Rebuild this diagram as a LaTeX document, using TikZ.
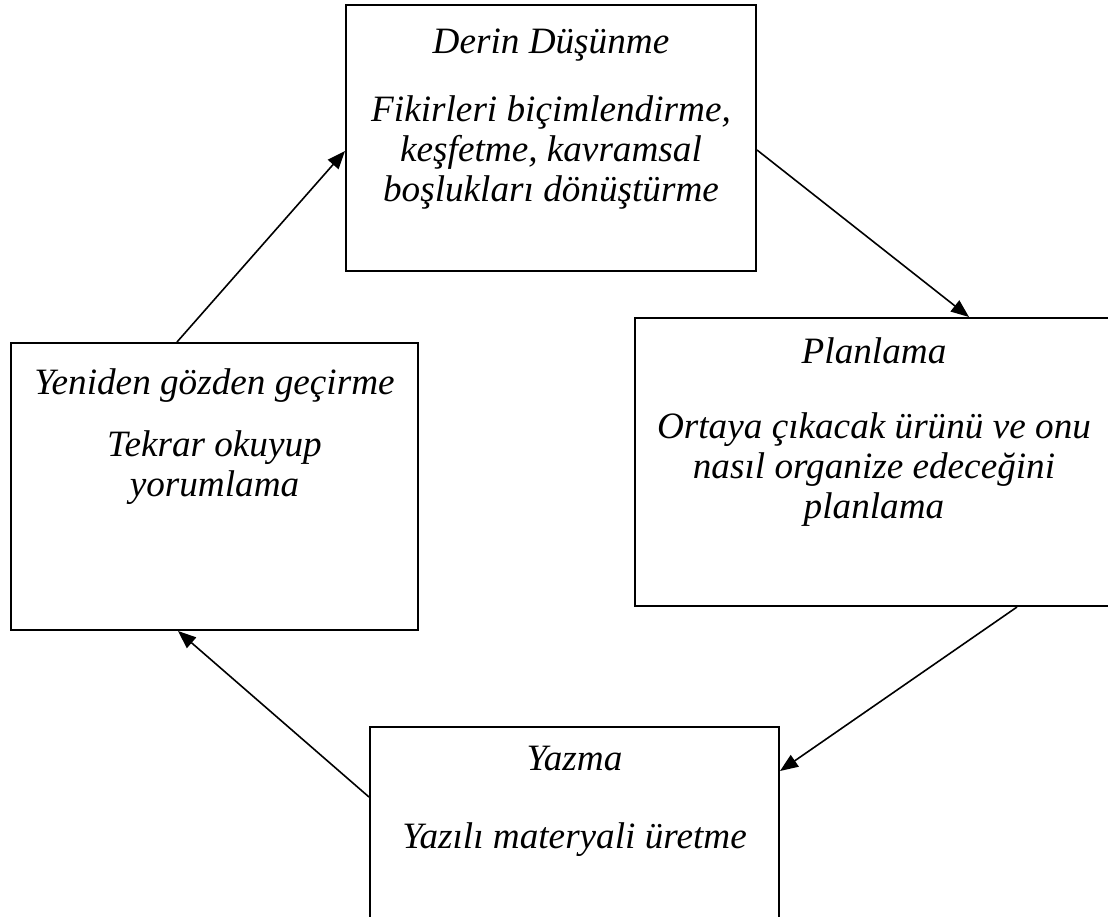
\documentclass[tikz,border=0pt]{standalone}
\usepackage{fontspec}
\setmainfont{Liberation Serif}
\usetikzlibrary{positioning,calc,arrows.meta}

\begin{document}
\begin{tikzpicture}[x=0.5pt,y=-0.5pt,
    box/.style={draw,line width=1pt,inner sep=0pt,anchor=north west},
    txt/.style={align=center,inner sep=0pt,anchor=north,
      font=\fontsize{18.6}{20}\selectfont\itshape},
    arr/.style={-{Triangle[length=9pt,width=7pt]},line width=0.8pt}]
  \useasboundingbox (0,0) rectangle (1108,916);

  % Boxes
  \node[box,minimum width=205pt,minimum height=133pt] (derin) at (345,4) {};
  \node[box,minimum width=239pt,minimum height=144pt] (plan) at (634,317) {};
  \node[box,minimum width=204.5pt,minimum height=120pt] (yazma) at (369,726) {};
  \node[box,minimum width=203.5pt,minimum height=143.5pt] (yeniden) at (10,342) {};

  % Texts
  \node[txt] (derinT) at ([yshift=-12pt]derin.north)
    {Derin Düşünme\\[14pt]Fikirleri biçimlendirme,\\keşfetme, kavramsal\\boşlukları dönüştürme};
  \node[txt] (planT) at ([yshift=-10pt]plan.north)
    {Planlama\\[17.5pt]Ortaya çıkacak ürünü ve onu\\nasıl organize edeceğini\\planlama};
  \node[txt] (yazmaT) at ([yshift=-10pt]yazma.north)
    {Yazma\\[19pt]Yazılı materyali üretme};
  \node[txt] (yenidenT) at ([yshift=-13pt]yeniden.north)
    {Yeniden gözden geçirme\\[11pt]Tekrar okuyup\\yorumlama};

  % Arrows
  \draw[arr] ([yshift=-73pt]derin.north east) -- ([xshift=167.5pt]plan.north west);
  \draw[arr] ([xshift=191.5pt]plan.south west) -- ([yshift=-22.5pt]yazma.north east);
  \draw[arr] ([yshift=-35.5pt]yazma.north west) -- ([xshift=84pt]yeniden.south west);
  \draw[arr] ([xshift=83.5pt]yeniden.north west) -- ([yshift=-73.5pt]derin.north west);
\end{tikzpicture}
\end{document}
